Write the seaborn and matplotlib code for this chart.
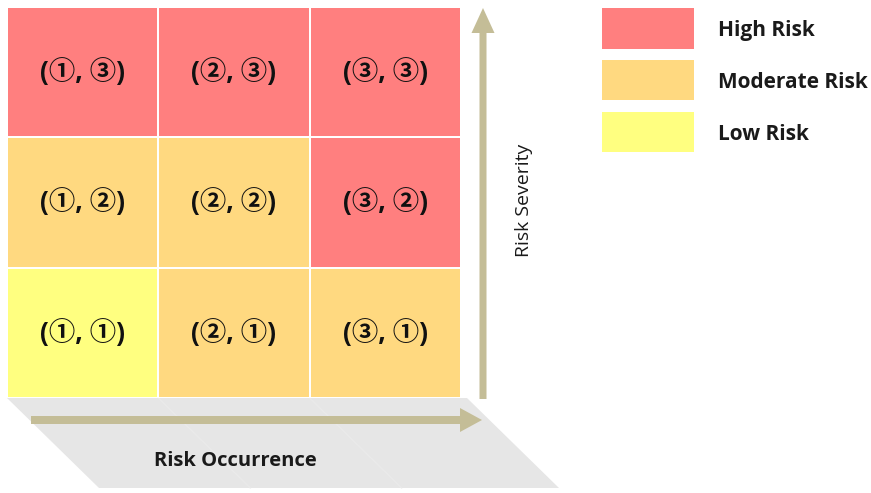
import numpy as np
import pandas as pd
import matplotlib
matplotlib.use("Agg")
import matplotlib.pyplot as plt
from matplotlib.colors import ListedColormap
from matplotlib.patches import Polygon, Rectangle, FancyArrow
import seaborn as sns

# Risk matrix: rows = severity (top = ③), columns = occurrence (①..③)
occurrence = ["①", "②", "③"]
severity = ["③", "②", "①"]
# 0 = Low, 1 = Moderate, 2 = High
risk_level = [
    [2, 2, 2],
    [1, 1, 2],
    [0, 1, 1],
]
level_names = ["Low Risk", "Moderate Risk", "High Risk"]
level_colors = ["#FFFF80", "#FFD980", "#FF7F7F"]

sns.set_theme(style="white")
plt.rcParams["font.family"] = ["Open Sans", "Noto Sans CJK KR", "DejaVu Sans"]

W, H = 871, 493
fig = plt.figure(figsize=(W / 100, H / 100), dpi=100)

# overlay in pixel coordinates for shadow, arrows and legend
bg = fig.add_axes([0, 0, 1, 1])
bg.set_xlim(0, W)
bg.set_ylim(H, 0)
bg.axis("off")

grid_l, grid_r, grid_t, grid_b = 7, 461, 7, 398

# floor shadow under the matrix
shift = 92
depth = 90
shadow = Polygon([(grid_l, grid_b), (grid_r + 6, grid_b),
                  (grid_r + 6 + shift, grid_b + depth), (grid_l + shift, grid_b + depth)],
                 closed=True, facecolor="#E6E6E6", edgecolor="none", zorder=0)
bg.add_patch(shadow)
cell_w = (grid_r - grid_l) / 3
for i in (1, 2):
    x0 = grid_l + i * cell_w
    bg.plot([x0, x0 + shift], [grid_b, grid_b + depth], color="#EAEAEA", lw=1.0, zorder=0.5)

# axis arrows
arrow_c = "#C4BD97"
bg.add_patch(FancyArrow(31, 420, 451, 0, width=8, head_width=24, head_length=22,
                        length_includes_head=True, color=arrow_c, lw=0, zorder=2))
bg.add_patch(FancyArrow(483, 399, 0, -391, width=7, head_width=23, head_length=25,
                        length_includes_head=True, color=arrow_c, lw=0, zorder=2))
bg.text(235, 461, "Risk Occurrence", ha="center", va="center", fontsize=14.5,
        fontweight="bold", color="#1a1a1a", zorder=3)
bg.text(524, 200, "Risk Severity", ha="center", va="center", fontsize=14,
        rotation=90, color="#1a1a1a", zorder=3)

# legend
legend_y = [(8, 49), (60, 100), (112, 152)]
for (y0, y1), name, col in zip(legend_y, level_names[::-1], level_colors[::-1]):
    bg.add_patch(Rectangle((602, y0), 92, y1 - y0, facecolor=col, edgecolor="none"))
    bg.text(718, (y0 + y1) / 2 + 2, name, ha="left", va="center", fontsize=15,
            fontweight="bold", color="#1a1a1a")

# heatmap axes placed over the grid area
ax = fig.add_axes([grid_l / W, 1 - grid_b / H, (grid_r - grid_l) / W, (grid_b - grid_t) / H])
df = pd.DataFrame(risk_level, index=severity, columns=occurrence)
labels = np.array([[f"({o}, {s})" for o in occurrence] for s in severity])
sns.heatmap(df, ax=ax, cmap=ListedColormap(level_colors), vmin=-0.5, vmax=2.5,
            cbar=False, linewidths=1.2, linecolor="white", annot=labels, fmt="",
            annot_kws={"fontsize": 19, "fontweight": "bold", "color": "#111111"})
ax.set_xticks([])
ax.set_yticks([])
ax.set_xlabel("")
ax.set_ylabel("")
for s in ax.spines.values():
    s.set_visible(False)

fig.savefig("out.png", dpi=100)
